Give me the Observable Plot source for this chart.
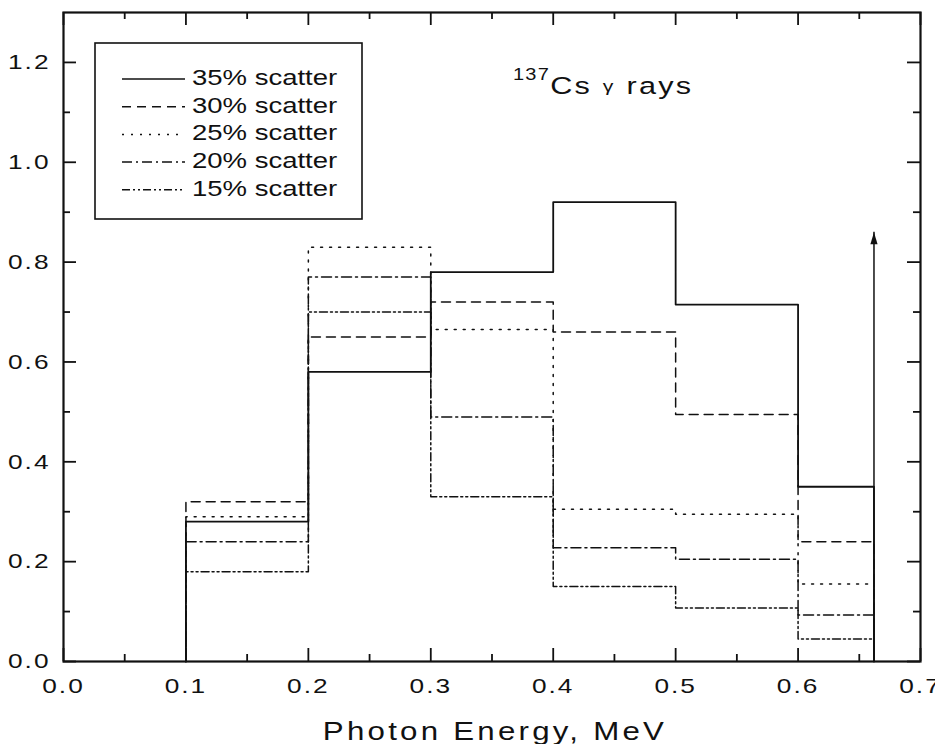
<!DOCTYPE html>
<html>
<head>
<meta charset="utf-8">
<script src="https://cdn.jsdelivr.net/npm/d3@7"></script>
<script src="https://cdn.jsdelivr.net/npm/@observablehq/plot@0.6"></script>
<style>
  body { margin: 0; background: #fff; }
  #chart svg { display: block; }
</style>
</head>
<body>
<div id="chart"></div>
<script>
// Energy bins (MeV); the last bin ends at the 137Cs line, 0.662 MeV
const binEdges = [0.1, 0.2, 0.3, 0.4, 0.5, 0.6, 0.662];

const seriesNames = ["35% scatter", "30% scatter", "25% scatter", "20% scatter", "15% scatter"];
const scatter35 = [0.28, 0.58, 0.78, 0.92, 0.715, 0.35];
const scatter30 = [0.32, 0.65, 0.72, 0.66, 0.495, 0.24];
const scatter25 = [0.29, 0.83, 0.665, 0.305, 0.295, 0.155];
const scatter20 = [0.24, 0.77, 0.49, 0.228, 0.205, 0.093];
const scatter15 = [0.18, 0.70, 0.33, 0.15, 0.107, 0.045];
const seriesValues = [scatter35, scatter30, scatter25, scatter20, scatter15];
const seriesDashes = [null, "9,6", "2,7", "10,4,2,4", "8,3,2,3,2,3"];

// Primary (unscattered) line marker
const lineEnergy = 0.662;
const arrowTop = 0.86;

const xMajorTicks = [0, 0.1, 0.2, 0.3, 0.4, 0.5, 0.6, 0.7];
const xMinorTicks = [0.05, 0.15, 0.25, 0.35, 0.45, 0.55, 0.65];
const yMajorTicks = [0, 0.2, 0.4, 0.6, 0.8, 1.0, 1.2];
const yMinorTicks = [0.1, 0.3, 0.5, 0.7, 0.9, 1.1];

const xLabel = "Photon Energy, MeV";
const sourceLabel = ["137", "Cs ", "\u03b3", " rays"];

// Turn per-bin values into a closed histogram outline
function outline(values, name) {
  const pts = [{x: binEdges[0], y: 0, name}];
  values.forEach((v, i) => {
    pts.push({x: binEdges[i], y: v, name}, {x: binEdges[i + 1], y: v, name});
  });
  pts.push({x: binEdges[binEdges.length - 1], y: 0, name});
  return pts;
}

const W = 935, H = 744;
const mt = 12, mb = 83, ml = 63, mr = 15;
const ph = H - mt - mb, pw = W - ml - mr;
const majorLen = 13, minorLen = 7;
const stretch = 1.25;

const fmt = d3.format(".1f");

const histogramMarks = seriesValues.map((vals, i) =>
  Plot.line(outline(vals, seriesNames[i]), {
    x: "x", y: "y",
    stroke: "#111",
    strokeWidth: i === 0 ? 1.8 : 1.5,
    strokeDasharray: seriesDashes[i] || undefined
  })
).reverse();

const arrowHead = {
  draw(context) {
    context.moveTo(0, 0);
    context.lineTo(3.6, 12);
    context.lineTo(-3.6, 12);
    context.closePath();
  }
};

const chart = Plot.plot({
  width: W, height: H,
  marginTop: mt, marginBottom: mb, marginLeft: ml, marginRight: mr,
  x: {domain: [0, 0.7], label: null},
  y: {domain: [0, 1.3], label: null},
  style: {fontFamily: "'Liberation Sans', Arial, sans-serif", fontSize: "21px", color: "#111", background: "#fff"},
  marks: [
    Plot.axisX(xMajorTicks, {tickSize: 0, tickPadding: 17, tickFormat: fmt, label: null}),
    Plot.axisY(yMajorTicks, {tickSize: 0, tickPadding: 13, tickFormat: fmt, label: null}),
    // inward ticks on all four sides
    Plot.ruleX(xMajorTicks, {x: d => d, insetTop: ph - majorLen, strokeWidth: 1.8}),
    Plot.ruleX(xMinorTicks, {x: d => d, insetTop: ph - minorLen, strokeWidth: 1.8}),
    Plot.ruleX(xMajorTicks, {x: d => d, insetBottom: ph - majorLen, strokeWidth: 1.8}),
    Plot.ruleX(xMinorTicks, {x: d => d, insetBottom: ph - minorLen, strokeWidth: 1.8}),
    Plot.ruleY(yMajorTicks, {y: d => d, insetRight: pw - majorLen, strokeWidth: 1.8}),
    Plot.ruleY(yMinorTicks, {y: d => d, insetRight: pw - minorLen, strokeWidth: 1.8}),
    Plot.ruleY(yMajorTicks, {y: d => d, insetLeft: pw - majorLen, strokeWidth: 1.8}),
    Plot.ruleY(yMinorTicks, {y: d => d, insetLeft: pw - minorLen, strokeWidth: 1.8}),
    ...histogramMarks,
    // 0.662 MeV line arrow
    Plot.ruleX([lineEnergy], {x: d => d, y1: 0, y2: arrowTop, stroke: "#111", strokeWidth: 1.5}),
    Plot.dot([lineEnergy], {x: d => d, y: arrowTop, symbol: arrowHead, fill: "#111", stroke: "none", r: 4}),
    Plot.text([xLabel], {
      text: d => d, frameAnchor: "bottom", lineAnchor: "bottom", dy: 78, dx: 3,
      fontSize: 25
    }),
    Plot.frame({stroke: "#111", strokeWidth: 2.2})
  ]
});

document.getElementById("chart").appendChild(chart);

const svg = d3.select(chart);
svg.selectAll("g[aria-label='x-axis tick label'] text, g[aria-label='y-axis tick label'] text")
  .attr("letter-spacing", "1.6px");
svg.selectAll("text").filter(function () { return this.textContent === xLabel; })
  .attr("letter-spacing", "2.6px");

// Legend
const legend = svg.append("g").attr("class", "legend").attr("text-anchor", "start");
legend.append("rect")
  .attr("x", 95).attr("y", 43).attr("width", 267).attr("height", 176)
  .attr("fill", "#fff").attr("stroke", "#111").attr("stroke-width", 1.6);
seriesNames.forEach((name, i) => {
  const base = 85 + i * 27.7;
  legend.append("line")
    .attr("x1", 122).attr("x2", 185).attr("y1", base - 6).attr("y2", base - 6)
    .attr("stroke", "#111").attr("stroke-width", 1.5)
    .attr("stroke-dasharray", seriesDashes[i]);
  legend.append("text")
    .attr("transform", `translate(192,${base})`)
    .attr("font-size", 22)
    .attr("fill", "#111")
    .text(name);
});

// Source annotation: 137Cs γ rays
const note = svg.append("text")
  .attr("transform", `translate(513,94)`)
  .attr("text-anchor", "start")
  .attr("fill", "#111")
  .attr("font-size", 24.5)
  .attr("letter-spacing", "1.8px");
note.append("tspan").attr("x", 0).attr("dy", -14).attr("font-size", 16).attr("letter-spacing", "1px").text(sourceLabel[0]);
note.append("tspan").attr("dy", 14).text(sourceLabel[1]);
note.append("tspan").attr("dy", -2).attr("font-size", 17).text(sourceLabel[2]);
note.append("tspan").attr("dy", 2).text(sourceLabel[3]);

// Wide lettering: stretch every label horizontally about its anchor
svg.selectAll("text").each(function () {
  const t = this.getAttribute("transform") || "";
  this.setAttribute("transform", `${t} scale(${stretch},1)`);
});
</script>
</body>
</html>
